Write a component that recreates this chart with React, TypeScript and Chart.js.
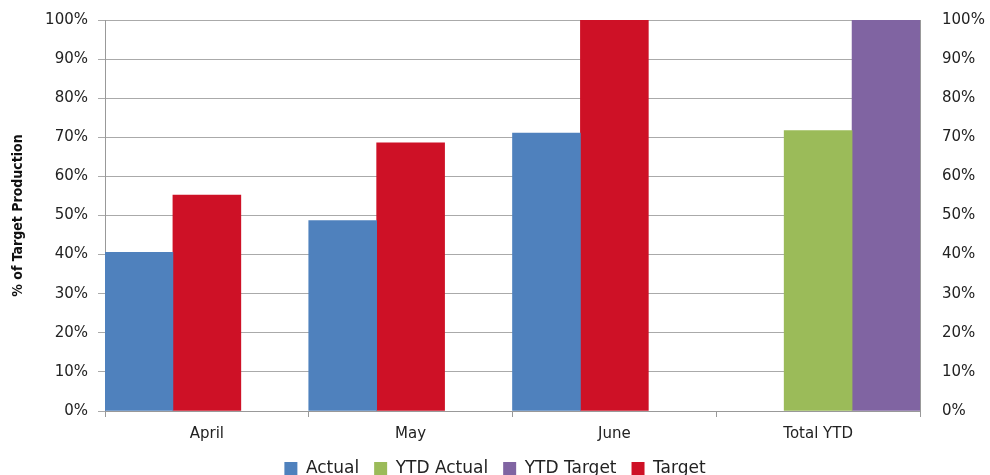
import React, { useEffect, useRef } from "react";
import { Chart, registerables } from "chart.js";

Chart.register(...registerables);

const categories = ["April", "May", "June", "Total YTD"];
const actual = [40.6, 48.7, 71.1, null];
const ytdActual = [null, null, null, 71.7];
const ytdTarget = [null, null, null, 100];
const target = [55.2, 68.6, 100, null];
const yTicks = [0, 10, 20, 30, 40, 50, 60, 70, 80, 90, 100];

const FONT = "'DejaVu Sans', Verdana, sans-serif";

export default function App() {
  const ref = useRef<HTMLCanvasElement | null>(null);
  useEffect(() => {
    if (!ref.current) return;
    const chart = new Chart(ref.current, {
      type: "bar",
      data: {
        labels: categories,
        datasets: [
          { label: "Actual", data: actual, backgroundColor: "#4F81BD", stack: "s1" },
          { label: "YTD Actual", data: ytdActual, backgroundColor: "#9BBB59", stack: "s2" },
          { label: "YTD Target", data: ytdTarget, backgroundColor: "#8064A2", stack: "s3" },
          { label: "Target", data: target, backgroundColor: "#CE1126", stack: "s2" },
        ],
      },
      options: {
        animation: false,
        responsive: false,
        maintainAspectRatio: false,
        layout: { padding: { top: 20, left: 0, right: 0, bottom: 0 } },
        datasets: { bar: { categoryPercentage: 1, barPercentage: 1, borderWidth: 0 } },
        plugins: {
          tooltip: { enabled: false },
          legend: {
            position: "bottom",
            maxHeight: 30,
            labels: {
              boxWidth: 13,
              boxHeight: 13,
              padding: 15,
              color: "#222",
              font: { family: FONT, size: 17 },
            },
          },
        },
        scales: {
          x: {
            stacked: true,
            grid: { drawOnChartArea: false, drawTicks: true, tickLength: 6, color: "#999", offset: true },
            border: { color: "#999" },
            ticks: { color: "#222", font: { family: FONT, size: 15 }, padding: 8 },
            afterFit: (s: any) => { s.height = 34; },
          },
          y: {
            position: "left",
            stacked: true,
            min: 0,
            max: 100,
            afterBuildTicks: (s: any) => { s.ticks = yTicks.map((v) => ({ value: v })); },
            grid: { color: "#aaa", tickLength: 7 },
            border: { color: "#999" },
            ticks: { color: "#222", font: { family: FONT, size: 15 }, padding: 10, callback: (v: any) => v + "%" },
            title: {
              display: true,
              text: "% of Target Production",
              color: "#111",
              font: { family: "'Liberation Sans Narrow', 'DejaVu Sans Condensed', sans-serif", size: 14, weight: "bold" },
              padding: { top: 10, bottom: 0 },
            },
            afterFit: (s: any) => { s.width = 105; },
          },
          y2: {
            position: "right",
            min: 0,
            max: 100,
            afterBuildTicks: (s: any) => { s.ticks = yTicks.map((v) => ({ value: v })); },
            grid: { drawOnChartArea: false, drawTicks: true, tickLength: 15, color: "rgba(0,0,0,0)" },
            border: { color: "#999" },
            ticks: { color: "#222", font: { family: FONT, size: 15 }, padding: 7, callback: (v: any) => v + "%" },
            afterFit: (s: any) => { s.width = 70; },
          },
        },
      },
    });
    return () => chart.destroy();
  }, []);
  return (
    <div style={{ position: "fixed", left: 0, top: 0, width: 990, height: 475, background: "#fff" }}>
      <canvas ref={ref} width={990} height={475} style={{ display: "block" }} />
    </div>
  );
}
